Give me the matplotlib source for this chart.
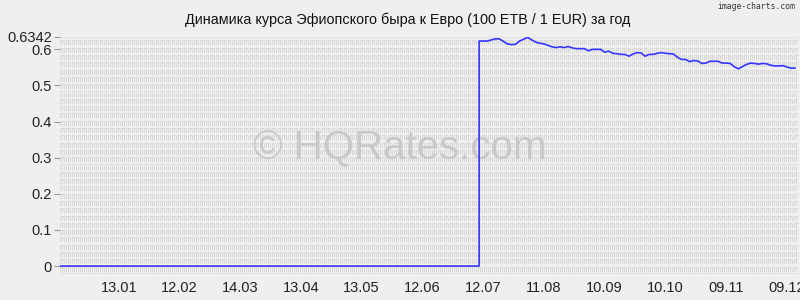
import numpy as np
import pandas as pd
import matplotlib
matplotlib.use("Agg")
import matplotlib.pyplot as plt

plt.rcParams['font.family'] = ['Liberation Sans', 'DejaVu Sans']
plt.rcParams['lines.scale_dashes'] = False

# ---- data ----
start_date = "2012-12-15"
end_date = "2013-12-14"
jump_date = "2013-07-10"
zero_end_date = "2013-07-10"
# values after the jump, every 2 days from jump_date
rate_values = [0.623, 0.623, 0.623, 0.626, 0.629, 0.629, 0.622, 0.615, 0.613, 0.614,
               0.623, 0.628, 0.633, 0.626, 0.620, 0.617, 0.615, 0.611, 0.607, 0.605,
               0.607, 0.605, 0.608, 0.604, 0.602, 0.602, 0.602, 0.596, 0.600, 0.600,
               0.600, 0.592, 0.595, 0.589, 0.588, 0.586, 0.586, 0.581, 0.587, 0.591,
               0.590, 0.581, 0.586, 0.586, 0.589, 0.591, 0.589, 0.588, 0.587, 0.578,
               0.572, 0.572, 0.566, 0.569, 0.568, 0.561, 0.562, 0.567, 0.567, 0.567,
               0.562, 0.562, 0.561, 0.552, 0.546, 0.552, 0.558, 0.562, 0.561, 0.559,
               0.561, 0.560, 0.556, 0.554, 0.554, 0.555, 0.551, 0.548, 0.548]
tick_labels = ["13.01", "12.02", "14.03", "13.04", "13.05", "12.06",
               "12.07", "11.08", "10.09", "10.10", "09.11", "09.12"]
tick_year = 2013
y_ticks = [0, 0.1, 0.2, 0.3, 0.4, 0.5, 0.6, 0.6342]
y_tick_labels = ["0", "0.1", "0.2", "0.3", "0.4", "0.5", "0.6", "0.6342"]
title = "Динамика курса Эфиопского быра к Евро (100 ETB / 1 EUR) за год"

zero_dates = pd.date_range(start_date, zero_end_date, freq="D")
zero_values = [0.0] * len(zero_dates)
rate_dates = pd.date_range(jump_date, periods=len(rate_values), freq="2D")

dates = list(zero_dates) + list(rate_dates)
values = zero_values + rate_values

tick_dates = [pd.Timestamp(year=tick_year, month=int(l[3:]), day=int(l[:2])) for l in tick_labels]

# ---- figure ----
bg = "#efefef"
fig = plt.figure(figsize=(8, 3), dpi=100, facecolor=bg)
ax = fig.add_axes([0.075, 0.0867, 0.9225, 0.79])
ax.set_facecolor(bg)

x0 = pd.Timestamp(start_date)
x1 = pd.Timestamp(end_date) + pd.Timedelta(hours=12)
ax.set_xlim(x0, x1)
ax.set_ylim(-0.022, 0.6342)

# textured grid bands
for yb in np.arange(-0.018, 0.634, 0.0202):
    ax.axhline(yb + 0.008, color="#d8d8d8", lw=2.9, dashes=(0.72, 0.72),
               solid_capstyle="butt", dash_capstyle="butt", zorder=0)
    ax.axhline(yb + 0.0165, color="#d8d8d8", lw=0.7, ls=(0, (3, 1)), zorder=0)
ax.axhline(-0.02, color="#d0d0d0", lw=0.7, ls=(0, (1, 1)), zorder=0)

# watermark
ax.text(0.46, 0.53, "© HQRates.com", transform=ax.transAxes, ha="center", va="center",
        fontsize=29, color="#c4c4c4", alpha=0.85, zorder=1)

ax.plot(dates, values, color="#3535ff", lw=1.2, zorder=3)

ax.set_xticks(tick_dates)
ax.set_xticklabels(tick_labels, fontsize=10.5, color="#222222")
ax.set_yticks(y_ticks)
ax.set_yticklabels(y_tick_labels, fontsize=10.5, color="#222222")
ax.tick_params(axis="x", length=0, pad=5)
ax.tick_params(axis="y", length=4, color="#999999", pad=2)
for s in ax.spines.values():
    s.set_visible(False)

fig.text(0.509, 0.935, title, ha="center", va="center", fontsize=10.4, color="#111111")
fig.text(0.994, 0.978, "image-charts.com", ha="right", va="center", fontsize=5.8,
         color="#333333", family=["DejaVu Sans Mono"])

fig.savefig("out.png", dpi=100, facecolor=bg)
